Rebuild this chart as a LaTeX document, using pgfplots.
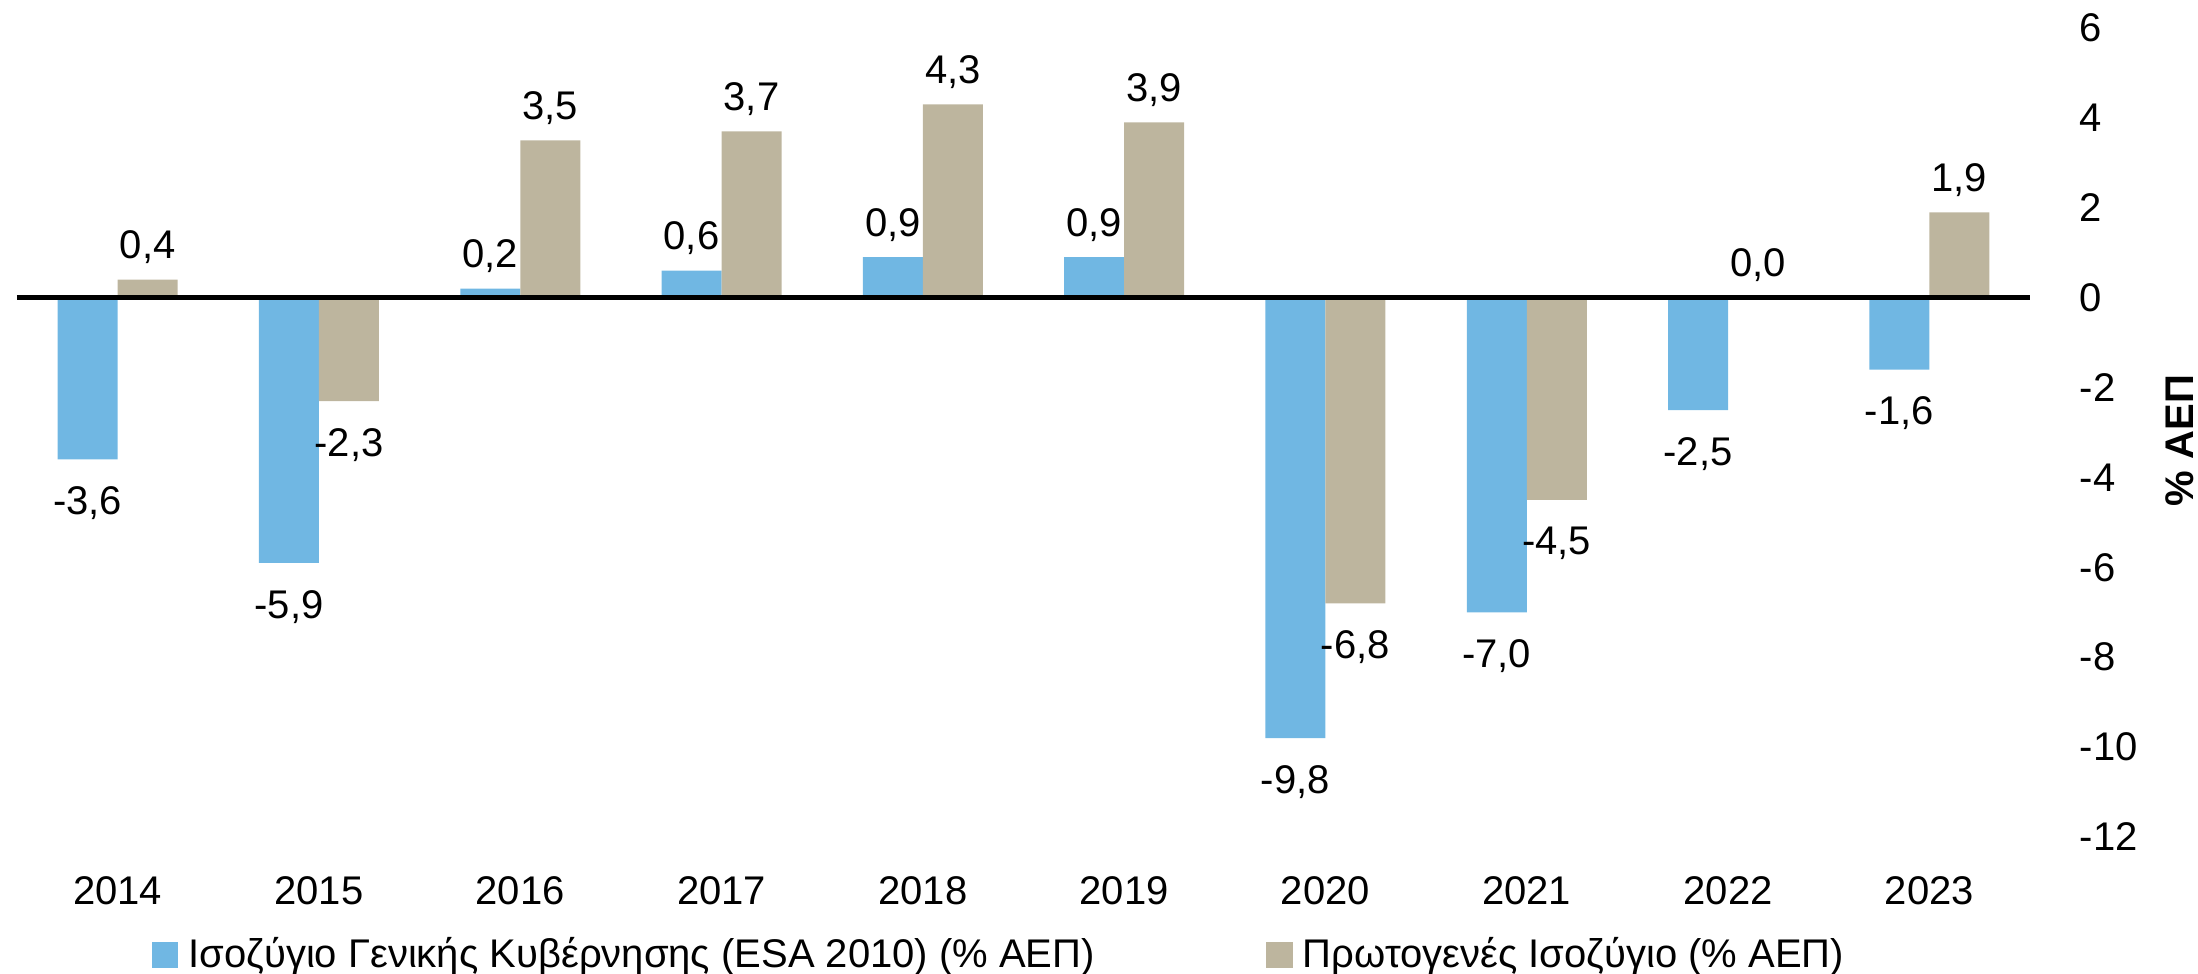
\documentclass[border=0pt]{standalone}
\usepackage{fontspec}
\setmainfont{Liberation Sans}
\usepackage{pgfplots}
\pgfplotsset{compat=1.18}
\pgfkeys{/pgf/number format/assume math mode=true}

\definecolor{balblue}{RGB}{112,183,227}
\definecolor{baltan}{RGB}{189,181,158}

\pgfplotstableread{
x  gen   prim
0  -3.6   0.4
1  -5.9  -2.3
2   0.2   3.5
3   0.6   3.7
4   0.9   4.3
5   0.9   3.9
6  -9.8  -6.8
7  -7.0  -4.5
8  -2.5   0.0
9  -1.6   1.9
}\balance

\begin{document}
\begin{tikzpicture}
\path[use as bounding box] (-4.25pt,-34.25pt) rectangle (545.25pt,209.25pt);
\begin{axis}[
    at={(0,0)}, anchor=south west,
    scale only axis,
    width=503.25pt, height=202.25pt,
    ybar=0pt, bar width=15pt,
    xmin=-0.5, xmax=9.5,
    ymin=-12, ymax=6,
    ytick={-12,-10,...,6},
    xtick=data,
    xticklabels={2014,2015,2016,2017,2018,2019,2020,2021,2022,2023},
    axis line style={draw=none},
    major tick length=0pt,
    yticklabel pos=right,
    yticklabel style={anchor=west, xshift=8.9pt, font=\fontsize{10}{12}\selectfont},
    xticklabel style={anchor=center, yshift=-13.5pt, font=\fontsize{10}{12}\selectfont},
    ylabel={\textbf{\% ΑΕΠ}},
    ylabel style={at={([xshift=37.5pt]rel axis cs:1,0.49)}, anchor=center, rotate=0, font=\fontsize{10}{12}\selectfont},
    clip=false,
    visualization depends on={y \as \rawy},
    nodes near coords={\pgfmathprintnumber[fixed,fixed zerofill,precision=1,use comma]{\pgfplotspointmeta}},
    every node near coord/.append style={font=\fontsize{10}{12}\selectfont, yshift={ifthenelse(\rawy<0,-3.3,0.4)}},
    legend columns=2,
    legend style={draw=none, fill=none, inner sep=0pt, outer sep=0pt,
        at={(rel axis cs:0.0671,-0.146)}, anchor=west,
        font=\fontsize{10}{12}\selectfont,
        /tikz/every even column/.append style={column sep=0pt},
        nodes={inner sep=2.5pt}},
    legend image code/.code={\fill[#1] (0pt,-3.3pt) rectangle (6.6pt,3.3pt);},
]
\addplot[draw=none, fill=balblue] table[x=x, y=gen] {\balance};
\addplot[draw=none, fill=baltan] table[x=x, y=prim] {\balance};
\draw[black, line width=1.25pt] (axis cs:-0.5,0) -- (axis cs:9.5,0);
\legend{\makebox[267pt][l]{Ισοζύγιο Γενικής Κυβέρνησης (ESA 2010) (\% ΑΕΠ)}, Πρωτογενές Ισοζύγιο (\% ΑΕΠ)}
\end{axis}
\end{tikzpicture}
\end{document}
